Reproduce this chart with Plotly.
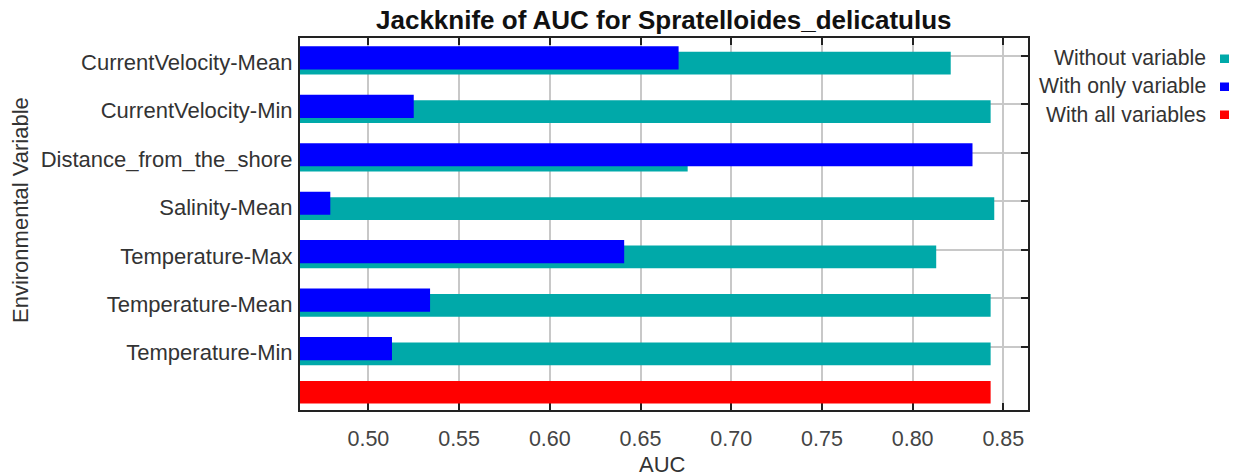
import plotly.graph_objects as go

# Jackknife results for Spratelloides_delicatulus (MaxEnt test AUC)
variables = [
    "CurrentVelocity-Mean",
    "CurrentVelocity-Min",
    "Distance_from_the_shore",
    "Salinity-Mean",
    "Temperature-Max",
    "Temperature-Mean",
    "Temperature-Min",
]
without_variable = [0.821, 0.843, 0.676, 0.845, 0.813, 0.843, 0.843]
with_only_variable = [0.671, 0.525, 0.833, 0.479, 0.641, 0.534, 0.513]
with_all_variables = 0.843

x_ticks = [0.50, 0.55, 0.60, 0.65, 0.70, 0.75, 0.80, 0.85]
x_range = [0.4623, 0.8636]

TEAL = "#00a9a9"
BLUE = "#0000ff"
RED = "#ff0000"
FONT = "Liberation Sans, Arial, sans-serif"
TXT = "#333333"

W, H = 1235, 476
L, R, T, B = 300, 207, 38, 66
pw, ph = W - L - R, H - T - B

rows = list(range(len(variables)))
all_row = len(variables)

fig = go.Figure()
fig.add_trace(go.Bar(
    name="Without variable", orientation="h",
    x=without_variable, y=rows,
    width=0.47, offset=-0.087,
    marker=dict(color=TEAL, line=dict(width=0)),
))
fig.add_trace(go.Bar(
    name="With only variable", orientation="h",
    x=with_only_variable, y=rows,
    width=0.478, offset=-0.20,
    marker=dict(color=BLUE, line=dict(width=0)),
))
fig.add_trace(go.Bar(
    name="With all variables", orientation="h",
    x=[with_all_variables], y=[all_row],
    width=0.466, offset=-0.292,
    marker=dict(color=RED, line=dict(width=0)),
))

fig.update_layout(
    width=W, height=H,
    margin=dict(l=L, r=R, t=T, b=B, pad=0),
    paper_bgcolor="white", plot_bgcolor="white",
    barmode="overlay", showlegend=False,
    font=dict(family=FONT, size=22, color=TXT),
)

fig.update_xaxes(
    range=x_range,
    tickmode="array", tickvals=x_ticks,
    ticktext=[f"{v:.2f}" for v in x_ticks],
    ticks="inside", ticklen=7, tickwidth=2, tickcolor="#222222",
    showline=True, linewidth=2, linecolor="#222222", mirror="ticks",
    showgrid=True, gridcolor="#c8c8c8", gridwidth=1.5,
    zeroline=False, layer="below traces",
    tickfont=dict(family=FONT, size=21.5, color="#444444"),
    ticklabelstandoff=8,
)

fig.update_yaxes(
    range=[7.306, -0.371],
    tickmode="array", tickvals=rows, ticktext=variables,
    ticks="inside", ticklen=7, tickwidth=2, tickcolor="#222222",
    showline=True, linewidth=2, linecolor="#222222", mirror="ticks",
    showgrid=True, gridcolor="#c8c8c8", gridwidth=1.5,
    zeroline=False, layer="below traces",
    tickfont=dict(family=FONT, size=22, color=TXT),
    ticklabelshift=-6, ticklabelstandoff=1,
)


def px_x(p):
    return (p - L) / pw


def px_y(p):
    return 1 - (p - T) / ph


annotations = [
    dict(text="<b>Jackknife of AUC for Spratelloides_delicatulus</b>",
         x=px_x(664), y=px_y(20), font=dict(size=26, color="#111111")),
    dict(text="AUC", x=px_x(662), y=px_y(464.5), font=dict(size=22, color=TXT)),
    dict(text="Environmental Variable", x=px_x(20), y=px_y(210),
         textangle=-90, font=dict(size=22, color=TXT)),
]
for a in annotations:
    a.update(xref="paper", yref="paper", xanchor="center", yanchor="middle",
             showarrow=False)

legend_items = [("Without variable", TEAL, 58), ("With only variable", BLUE, 86),
                ("With all variables", RED, 114)]
shapes = []
for label, color, yc in legend_items:
    annotations.append(dict(
        text=label, xref="paper", yref="paper", x=px_x(1208), y=px_y(yc),
        xanchor="right", yanchor="middle", showarrow=False,
        font=dict(size=21.2, color=TXT),
    ))
    shapes.append(dict(
        type="rect", xref="paper", yref="paper",
        x0=px_x(1220), x1=px_x(1229), y0=px_y(yc - 3.5), y1=px_y(yc + 5),
        fillcolor=color, line=dict(width=0),
    ))

fig.update_layout(annotations=annotations, shapes=shapes)

fig.write_html("out.html")
